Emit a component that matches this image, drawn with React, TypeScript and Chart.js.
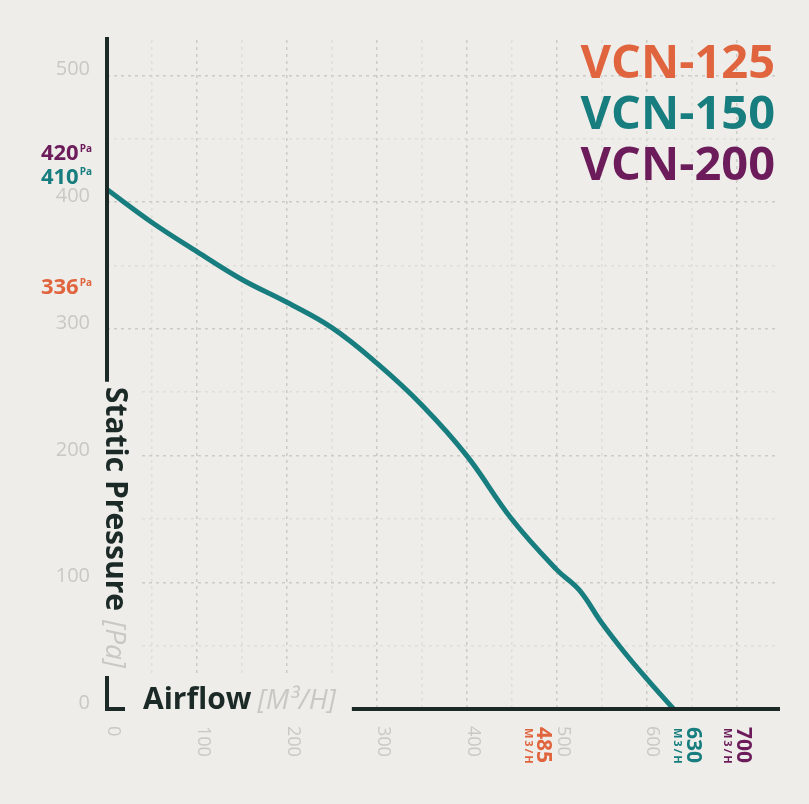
import React, { useEffect, useRef } from 'react';
import Chart from 'chart.js/auto';

// fan models and their rated maximums
const models = ['VCN-125', 'VCN-150', 'VCN-200'];
const modelColors = ['#e0653f', '#177d7e', '#6c1c5a'];
const maxPressure = [336, 410, 420]; // Pa
const maxAirflow = [485, 630, 700]; // M3/H

// VCN-150 performance curve
const airflow = [0, 50, 100, 150, 200, 250, 300, 350, 400, 450, 500, 525, 550, 575, 600, 630];
const pressure = [410, 384, 361, 339, 321, 301, 273, 240, 200, 150, 110, 94, 68, 45, 24, 0];

const xTickLabels = [0, 100, 200, 300, 400, 500, 600];
const yTickLabels = [0, 100, 200, 300, 400, 500];

const BG = '#eeede9';
const DARK = '#1c2a27';
const GRAY = '#c8c8c4';
const FONT = '"Open Sans", sans-serif';
const TITLE_FONT = `bold 30px ${FONT}`;
const UNIT_FONT = `italic 28px ${FONT}`;

// nudges so the marker labels don't sit on top of the grey ticks
const pressureNudge = [3.5, -13, -24];
const airflowNudge = [0, 19, 6];

function titleLayout(chart) {
  const { ctx, scales } = chart;
  const x0 = scales.x.getPixelForValue(0);
  const y0 = scales.y.getPixelForValue(0);
  ctx.save();
  ctx.font = TITLE_FONT;
  const wStatic = ctx.measureText('Static Pressure').width;
  const wAir = ctx.measureText('Airflow').width;
  ctx.font = UNIT_FONT;
  const wPa = ctx.measureText('[Pa]').width;
  const wM = ctx.measureText('[M³/H]').width;
  ctx.restore();
  const lTop = y0 - 33;
  const yTitleEnd = lTop - 8;
  const yTitleStart = yTitleEnd - (wStatic + 9 + wPa);
  const xTitleStart = x0 + 36;
  const xTitleEnd = xTitleStart + wAir + 6 + wM;
  return { x0, y0, lTop, yTitleStart, xTitleStart, xTitleEnd, wStatic, wAir };
}

const decorations = {
  id: 'decorations',
  beforeDatasetsDraw(chart) {
    const { ctx } = chart;
    const L = titleLayout(chart);
    ctx.save();
    ctx.fillStyle = BG;
    ctx.fillRect(L.x0 - 4, L.yTitleStart - 5, 37, L.y0 - L.yTitleStart + 8);
    ctx.fillRect(L.x0 - 4, L.y0 - 35, L.xTitleEnd + 16 - L.x0, 38);
    ctx.restore();
  },
  afterDraw(chart) {
    const { ctx, chartArea, scales } = chart;
    const { x, y } = scales;
    const L = titleLayout(chart);
    ctx.save();

    // broken axis lines
    ctx.strokeStyle = DARK;
    ctx.lineWidth = 4;
    ctx.lineJoin = 'miter';
    ctx.beginPath();
    ctx.moveTo(L.x0, chartArea.top - 3);
    ctx.lineTo(L.x0, L.yTitleStart - 5);
    ctx.moveTo(L.x0, L.lTop);
    ctx.lineTo(L.x0, L.y0);
    ctx.lineTo(L.x0 + 18, L.y0);
    ctx.moveTo(L.xTitleEnd + 16, L.y0);
    ctx.lineTo(chartArea.right + 3, L.y0);
    ctx.stroke();

    // y title (reads top to bottom)
    ctx.save();
    ctx.translate(L.x0 - 1, L.yTitleStart);
    ctx.rotate(Math.PI / 2);
    ctx.textBaseline = 'alphabetic';
    ctx.textAlign = 'left';
    ctx.font = TITLE_FONT;
    ctx.fillStyle = DARK;
    ctx.fillText('Static Pressure', 0, 0);
    ctx.font = UNIT_FONT;
    ctx.fillStyle = GRAY;
    ctx.fillText('[Pa]', L.wStatic + 9, 0);
    ctx.restore();

    // x title
    ctx.textBaseline = 'alphabetic';
    ctx.textAlign = 'left';
    ctx.font = TITLE_FONT;
    ctx.fillStyle = DARK;
    ctx.fillText('Airflow', L.xTitleStart, L.y0);
    ctx.font = UNIT_FONT;
    ctx.fillStyle = GRAY;
    ctx.fillText('[M³/H]', L.xTitleStart + L.wAir + 6, L.y0);

    // grey y ticks
    ctx.font = `20px ${FONT}`;
    ctx.fillStyle = GRAY;
    ctx.textAlign = 'right';
    yTickLabels.forEach((v) => {
      ctx.fillText(String(v), L.x0 - 17, y.getPixelForValue(v));
    });

    // grey x ticks, rotated
    ctx.font = `18px ${FONT}`;
    xTickLabels.forEach((v) => {
      ctx.save();
      ctx.translate(x.getPixelForValue(v) + 6, L.y0 + 17);
      ctx.rotate(Math.PI / 2);
      ctx.textAlign = 'left';
      ctx.textBaseline = 'middle';
      ctx.fillText(String(v), 0, 0);
      ctx.restore();
    });

    // max pressure markers
    models.forEach((m, i) => {
      const cy = y.getPixelForValue(maxPressure[i]) + pressureNudge[i];
      ctx.fillStyle = modelColors[i];
      ctx.textAlign = 'right';
      ctx.font = `bold 10px ${FONT}`;
      ctx.textBaseline = 'top';
      const wPa = ctx.measureText('Pa').width;
      ctx.fillText('Pa', L.x0 - 15, cy - 9);
      ctx.font = `bold 22px ${FONT}`;
      ctx.textBaseline = 'middle';
      ctx.fillText(String(maxPressure[i]), L.x0 - 16 - wPa, cy + 1);
    });

    // max airflow markers
    models.forEach((m, i) => {
      const cx = x.getPixelForValue(maxAirflow[i]) + airflowNudge[i];
      ctx.fillStyle = modelColors[i];
      ctx.save();
      ctx.translate(cx, L.y0 + 18);
      ctx.rotate(Math.PI / 2);
      ctx.textAlign = 'left';
      ctx.textBaseline = 'middle';
      ctx.font = `bold 21px ${FONT}`;
      ctx.fillText(String(maxAirflow[i]), 0, 0);
      ctx.font = `bold 11px ${FONT}`;
      ctx.letterSpacing = '2px';
      ctx.fillText('M3/H', 1, 15);
      ctx.restore();
    });

    // model legend
    ctx.font = `bold 47px ${FONT}`;
    ctx.textAlign = 'right';
    ctx.textBaseline = 'alphabetic';
    models.forEach((m, i) => {
      ctx.fillStyle = modelColors[i];
      ctx.fillText(m, chartArea.right - 2, chartArea.top + 38 + i * 51);
    });

    ctx.restore();
  },
};

const gridColor = (c) => {
  const v = c.tick.value;
  if (v === 0 || v % 50 !== 0) return 'rgba(0,0,0,0)';
  return v % 100 === 0 ? '#cbcbc7' : '#dededa';
};

const App = () => {
  const chartRef = useRef(null);

  useEffect(() => {
    const ctx = chartRef.current.getContext('2d');

    const myChart = new Chart(ctx, {
      type: 'line',
      data: {
        datasets: [
          {
            label: models[1],
            data: airflow.map((a, i) => ({ x: a, y: pressure[i] })),
            borderColor: modelColors[1],
            borderWidth: 5,
            pointRadius: 0,
            tension: 0.4,
            fill: false,
          },
        ],
      },
      options: {
        responsive: false,
        animation: false,
        layout: { padding: { left: 107, top: 40, right: 32, bottom: 95 } },
        plugins: { legend: { display: false }, tooltip: { enabled: false } },
        scales: {
          x: {
            type: 'linear',
            min: 0,
            max: 745,
            ticks: { display: false, stepSize: 50 },
            grid: { color: gridColor, lineWidth: 1.5, drawTicks: false },
            border: { display: false, dash: [3, 4] },
          },
          y: {
            min: 0,
            max: 528,
            ticks: { display: false, stepSize: 50 },
            grid: { color: gridColor, lineWidth: 1.5, drawTicks: false },
            border: { display: false, dash: [3, 4] },
          },
        },
      },
      plugins: [decorations],
    });

    return () => {
      myChart.destroy();
    };
  }, []);

  return (
    <div style={{ position: 'fixed', left: 0, top: 0, width: 809, height: 804, background: BG }}>
      <canvas ref={chartRef} width="809" height="804" />
    </div>
  );
};

export default App;
